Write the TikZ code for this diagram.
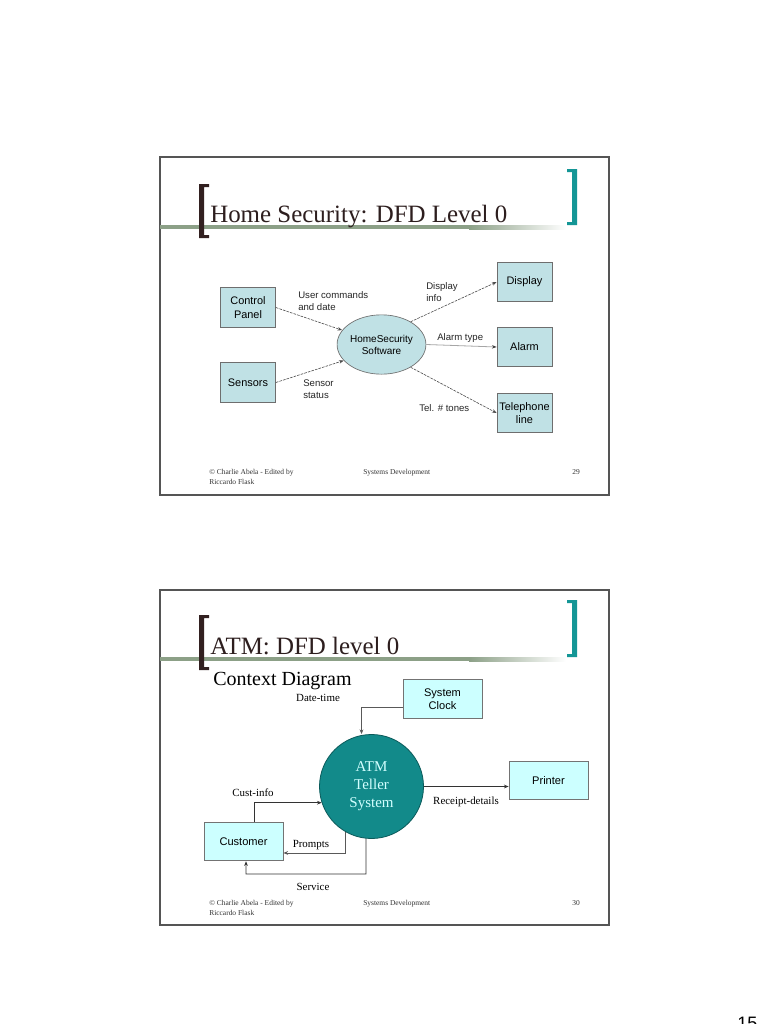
\documentclass[tikz,border=0pt]{standalone}
\usepackage{fontspec}
\setmainfont{Liberation Serif}
\setsansfont{Liberation Sans}
\usetikzlibrary{arrows.meta,shapes.geometric}
\definecolor{framegray}{RGB}{85,85,85}
\definecolor{titlebrown}{RGB}{45,30,30}
\definecolor{bracketbrown}{RGB}{50,32,32}
\definecolor{bracketteal}{RGB}{20,150,150}
\definecolor{rulegreen}{RGB}{140,160,135}
\definecolor{hsfill}{RGB}{192,225,229}
\definecolor{hsline}{RGB}{110,110,110}
\definecolor{atmfill}{RGB}{204,255,255}
\definecolor{atmteal}{RGB}{18,138,138}
\definecolor{atmdark}{RGB}{10,90,90}
\definecolor{atmtext}{RGB}{210,255,255}
\begin{document}
\begin{tikzpicture}[x=0.75pt,y=-0.75pt,
  frame/.style={draw=framegray,line width=1.1pt},
  titletext/.style={anchor=base west,inner sep=0,text=titlebrown,font=\fontsize{18.7}{20}\selectfont},
  foot/.style={anchor=base west,inner sep=0,font=\fontsize{5.6}{6.5}\selectfont,text=black!80},
  hsbox/.style={draw=hsline,fill=hsfill,line width=0.5pt,align=center,inner sep=0,
     minimum width=41.25pt,minimum height=29.6pt,font=\sffamily\fontsize{8.2}{10}\selectfont},
  hscirc/.style={ellipse,draw=hsline,fill=hsfill,line width=0.5pt,align=center,inner sep=0,
     minimum width=48.75pt,minimum height=44.5pt,font=\sffamily\fontsize{7.5}{9}\selectfont},
  hslab/.style={align=left,inner sep=0,font=\sffamily\fontsize{7.2}{8.6}\selectfont,text=black!85},
  hsarr/.style={draw=black!70,line width=0.45pt,dash pattern=on 2pt off 0.8pt,-{Stealth[length=3.5pt,width=2.6pt]}},
  atmbox/.style={draw=black!55,fill=atmfill,line width=0.6pt,align=center,inner sep=0,
     minimum width=59.25pt,minimum height=29pt,font=\sffamily\fontsize{8.3}{10}\selectfont},
  atmlab/.style={inner sep=0,font=\fontsize{8.2}{10}\selectfont},
  atmarr/.style={draw=black!80,line width=0.6pt,-{Stealth[length=3.5pt,width=2.8pt]}},
  atmline/.style={draw=black!65,line width=0.6pt,-{Stealth[length=3.5pt,width=2.8pt]}}]
\useasboundingbox (0,0) rectangle (768,1024);
\fill[white] (0,0) rectangle (768,1024);

% ================= Slide 1 =================
\draw[frame] (160,157) rectangle (609,495);
\fill[rulegreen] (160,225) rectangle (470,229);
\shade[left color=rulegreen,right color=white] (469,225) rectangle (566,229);
\fill[bracketbrown] (199,184) -- (209,184) -- (209,187) -- (204,187) -- (204,235) -- (209,235) -- (209,238) -- (199,238) -- cycle;
\fill[bracketteal] (577,169) -- (567,169) -- (567,172) -- (572,172) -- (572,222) -- (567,222) -- (567,225) -- (577,225) -- cycle;
\node[titletext] (t1) at (210,222) {Home Security: DFD Level 0};

\node[hsbox] (cp) at (248,307.5) {Control\\Panel};
\node[hsbox] (sens) at (248,382.5) {Sensors};
\node[hscirc] (hs) at (381.5,344.5) {HomeSecurity\\Software};
\node[hsbox] (disp) at (524.5,282) {Display};
\node[hsbox] (alarm) at (524.5,347) {Alarm};
\node[hsbox] (tel) at (524.5,413) {Telephone\\line};

\draw[hsarr] (cp.east) -- (hs.160);
\draw[hsarr] (sens.east) -- (hs.203);
\draw[hsarr] (hs.38) -- (disp.west);
\draw[draw=black!35,line width=0.6pt,-{Stealth[length=3.5pt,width=2.6pt,color=black!75]}] (hs.east) -- (alarm.west);
\draw[hsarr] (hs.322) -- (tel.west);

\node[hslab,anchor=west] (l1) at (298,301) {User commands\\and date};
\node[hslab,anchor=west] (l2) at (303,389) {Sensor\\status};
\node[hslab,anchor=west] (l3) at (426,292) {Display\\info};
\node[hslab,anchor=west] (l4) at (437,338) {Alarm type};
\node[hslab,anchor=west] (l5) at (419,408) {Tel. \# tones};

\node[foot] (f1a) at (209,474) {\textcopyright{} Charlie Abela - Edited by};
\node[foot] (f1b) at (209,484) {Riccardo Flask};
\node[foot] (f1c) at (363,474) {Systems Development};
\node[foot] (f1d) at (572,474) {29};

% ================= Slide 2 =================
\draw[frame] (160,590) rectangle (609,925);
\fill[rulegreen] (160,657) rectangle (470,661);
\shade[left color=rulegreen,right color=white] (469,657) rectangle (566,661);
\fill[bracketbrown] (199,615) -- (209,615) -- (209,618) -- (204,618) -- (204,667) -- (209,667) -- (209,670) -- (199,670) -- cycle;
\fill[bracketteal] (577,600) -- (567,600) -- (567,603) -- (572,603) -- (572,654) -- (567,654) -- (567,657) -- (577,657) -- cycle;
\node[titletext] (t2) at (210,654) {ATM: DFD level 0};
\node[anchor=base west,inner sep=0,font=\fontsize{15}{17}\selectfont] (ctx) at (213,685) {Context Diagram};

\node[atmbox] (clock) at (442.5,699) {System\\Clock};
\node[atmbox] (printer) at (548.5,780.5) {Printer};
\node[atmbox] (cust) at (243.5,841.5) {Customer};
\node[circle,draw=atmdark,fill=atmteal,line width=0.6pt,minimum size=78pt,inner sep=0,align=center,
      text=atmtext,font=\fontsize{11.25}{13.6}\selectfont] (atm) at (371.5,786.5) {ATM\\Teller\\System};

\coordinate (svc) at (246,874);
\draw[atmline] ([yshift=-6pt]clock.west) -| ([xshift=-7.5pt]atm.north);
\draw[atmarr] ([xshift=8pt]cust.north) |- (atm.198);
\draw[atmline] (atm.240) |- ([yshift=-8.6pt]cust.east);
\draw[atmarr] (atm.264) |- (svc) -- ([xshift=1.9pt]cust.south);
\draw[atmarr] (atm.east) -- (atm.east -| printer.west);

\node[atmlab] (dt) at (318,698) {Date-time};
\node[atmlab] (ci) at (253,793) {Cust-info};
\node[atmlab] (pr) at (311,845) {Prompts};
\node[atmlab] (sv) at (313,887) {Service};
\node[atmlab] (rd) at (466,802) {Receipt-details};

\node[foot] (f2a) at (209,905) {\textcopyright{} Charlie Abela - Edited by};
\node[foot] (f2b) at (209,915) {Riccardo Flask};
\node[foot] (f2c) at (363,905) {Systems Development};
\node[foot] (f2d) at (572,905) {30};

\node[anchor=base west,inner sep=0,font=\sffamily\fontsize{13.5}{15}\selectfont] (pg) at (737,1029) {15};
\end{tikzpicture}
\end{document}
